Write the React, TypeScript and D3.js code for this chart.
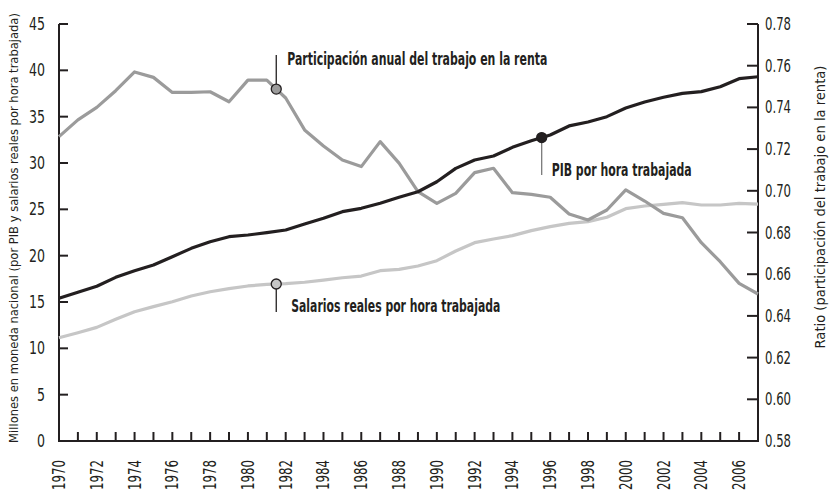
import React, { useEffect, useRef } from 'react';
import * as d3 from 'd3';

const years = [
  1970, 1971, 1972, 1973, 1974, 1975, 1976, 1977, 1978, 1979,
  1980, 1981, 1982, 1983, 1984, 1985, 1986, 1987, 1988, 1989,
  1990, 1991, 1992, 1993, 1994, 1995, 1996, 1997, 1998, 1999,
  2000, 2001, 2002, 2003, 2004, 2005, 2006, 2007,
];

// PIB por hora trabajada (millones, eje izquierdo)
const pibPorHora = [
  15.4, 16.05, 16.7, 17.66, 18.38, 18.99, 19.89, 20.79, 21.5, 22.05,
  22.23, 22.48, 22.77, 23.42, 24.03, 24.75, 25.11, 25.65, 26.3, 26.9,
  27.98, 29.42, 30.32, 30.75, 31.69, 32.4, 33.02, 34.0, 34.42, 35.0,
  35.93, 36.58, 37.09, 37.52, 37.7, 38.23, 39.1, 39.31,
];

// Salarios reales por hora trabajada (eje izquierdo)
const salariosPorHora = [
  11.15, 11.69, 12.26, 13.13, 13.95, 14.5, 15.03, 15.65, 16.11, 16.44,
  16.73, 16.9, 16.98, 17.13, 17.37, 17.62, 17.8, 18.38, 18.52, 18.88,
  19.46, 20.5, 21.4, 21.8, 22.16, 22.7, 23.13, 23.49, 23.67, 24.14,
  25.07, 25.36, 25.54, 25.72, 25.47, 25.47, 25.65, 25.57,
];

// Participación anual del trabajo en la renta (ratio, eje derecho)
const participacion = [
  0.726, 0.734, 0.740, 0.748, 0.757, 0.7544, 0.7472, 0.7472, 0.7475, 0.7427,
  0.7531, 0.7531, 0.7445, 0.7292, 0.7215, 0.7148, 0.7116, 0.7236, 0.7133, 0.6996,
  0.694, 0.6988, 0.7087, 0.7108, 0.6991, 0.6983, 0.6969, 0.6889, 0.686, 0.6908,
  0.7004, 0.6951, 0.6892, 0.6871, 0.6751, 0.666, 0.6556, 0.6505,
];

const leftTicks = [0, 5, 10, 15, 20, 25, 30, 35, 40, 45];
const rightTicks = [0.58, 0.6, 0.62, 0.64, 0.66, 0.68, 0.7, 0.72, 0.74, 0.76, 0.78];
const yearLabels = [
  1970, 1972, 1974, 1976, 1978, 1980, 1982, 1984, 1986, 1988,
  1990, 1992, 1994, 1996, 1998, 2000, 2002, 2004, 2006,
];

const FONT = '"Liberation Sans Narrow", "DejaVu Sans Condensed", "Liberation Sans", sans-serif';
const INK = '#231f20';

const interp = (arr: number[], yr: number) => {
  const i = Math.floor(yr - years[0]);
  const f = yr - years[0] - i;
  return arr[i] + (arr[i + 1] - arr[i]) * f;
};

const App = () => {
  const svgRef = useRef<SVGSVGElement>(null);

  useEffect(() => {
    const svg = d3.select(svgRef.current);
    svg.selectAll('*').remove();

    const width = 829;
    const height = 495;
    const margin = { top: 24, right: 71, bottom: 54, left: 59 };
    const x0 = margin.left;
    const x1 = width - margin.right;
    const y0 = height - margin.bottom;

    const x = d3.scaleLinear().domain([1970, 2007]).range([x0, x1]);
    const yL = d3.scaleLinear().domain([0, 45]).range([y0, margin.top]);
    const yR = d3.scaleLinear().domain([0.58, 0.78]).range([y0, margin.top]);

    const g = svg.append('g').style('font-family', FONT).style('font-stretch', 'condensed');

    // axis lines
    const axes = g.append('g').attr('stroke', INK).attr('stroke-width', 2).attr('fill', 'none');
    axes.append('line').attr('x1', x0).attr('x2', x0).attr('y1', margin.top).attr('y2', y0 + 1);
    axes.append('line').attr('x1', x1).attr('x2', x1).attr('y1', margin.top).attr('y2', y0 + 1);
    axes.append('line').attr('x1', x0).attr('x2', x1).attr('y1', y0).attr('y2', y0);

    // left ticks + labels
    axes.selectAll('.lt').data(leftTicks).join('line')
      .attr('x1', x0).attr('x2', x0 + 9)
      .attr('y1', d => yL(d)).attr('y2', d => yL(d));
    g.append('g').selectAll('text').data(leftTicks).join('text')
      .attr('x', x0 - 14).attr('y', d => yL(d) + 6)
      .attr('text-anchor', 'end')
      .attr('fill', INK)
      .style('font-size', '17px')
      .attr('textLength', d => String(d).length * 8)
      .attr('lengthAdjust', 'spacingAndGlyphs')
      .text(d => d);

    // right ticks + labels
    axes.selectAll('.rt').data(rightTicks).join('line')
      .attr('x1', x1 - 11).attr('x2', x1)
      .attr('y1', d => yR(d)).attr('y2', d => yR(d));
    g.append('g').selectAll('text').data(rightTicks).join('text')
      .attr('x', x1 + 7).attr('y', d => yR(d) + 6)
      .attr('fill', INK)
      .style('font-size', '17px')
      .attr('textLength', 26)
      .attr('lengthAdjust', 'spacingAndGlyphs')
      .text(d => d3.format('.2f')(d));

    // x ticks every year, labels every two
    axes.selectAll('.xt').data(years.slice(1, -1)).join('line')
      .attr('x1', d => x(d)).attr('x2', d => x(d))
      .attr('y1', y0).attr('y2', y0 - 9);
    g.append('g').selectAll('text').data(yearLabels).join('text')
      .attr('transform', d => `translate(${x(d) + 6},${y0 + 19}) rotate(-90)`)
      .attr('text-anchor', 'end')
      .attr('fill', INK)
      .style('font-size', '18px')
      .attr('textLength', 30)
      .attr('lengthAdjust', 'spacingAndGlyphs')
      .text(d => d);

    // axis titles, font size fitted to the reference length
    const fitTitle = (label: string, cx: number, cy: number, size: number, target: number) => {
      const t = g.append('text')
        .attr('transform', `translate(${cx},${cy}) rotate(-90)`)
        .attr('text-anchor', 'middle')
        .attr('fill', INK)
        .style('font-size', `${size}px`)
        .text(label);
      const node = t.node() as SVGTextElement;
      const len = node.getComputedTextLength();
      if (len > 0) t.style('font-size', `${(size * target) / len}px`);
    };
    fitTitle('Millones en moneda nacional  (por PIB y salarios reales por hora trabajada)', 18, 228, 14, 430);
    fitTitle('Ratio (participación del trabajo en la renta)', 825, 207, 15, 283);

    // series
    const lineL = d3.line<number>().x((_, i) => x(years[i])).y(d => yL(d));
    const lineR = d3.line<number>().x((_, i) => x(years[i])).y(d => yR(d));

    g.append('path').datum(salariosPorHora)
      .attr('d', lineL).attr('fill', 'none')
      .attr('stroke', '#c6c6c6').attr('stroke-width', 3.2).attr('stroke-linejoin', 'round');
    g.append('path').datum(participacion)
      .attr('d', lineR).attr('fill', 'none')
      .attr('stroke', '#9b9b9b').attr('stroke-width', 3.2).attr('stroke-linejoin', 'round');
    g.append('path').datum(pibPorHora)
      .attr('d', lineL).attr('fill', 'none')
      .attr('stroke', INK).attr('stroke-width', 3.2).attr('stroke-linejoin', 'round');

    // callouts
    const notes = [
      { yr: 1981.5, cy: yR(interp(participacion, 1981.5)), ly: 55, fill: '#9b9b9b', tx: 11, ty: 65,
        label: 'Participación anual del trabajo en la renta', len: 260 },
      { yr: 1981.5, cy: yL(interp(salariosPorHora, 1981.5)), ly: 312, fill: '#c6c6c6', tx: 15, ty: 312,
        label: 'Salarios reales por hora trabajada', len: 209 },
      { yr: 1995.55, cy: yL(interp(pibPorHora, 1995.55)), ly: 175, fill: INK, tx: 10, ty: 176,
        label: 'PIB por hora trabajada', len: 140 },
    ];

    notes.forEach(n => {
      const cx = x(n.yr);
      g.append('line')
        .attr('x1', cx).attr('x2', cx).attr('y1', n.cy).attr('y2', n.ly)
        .attr('stroke', n.fill === INK ? '#7a7a7a' : INK).attr('stroke-width', 1.3);
      g.append('circle')
        .attr('cx', cx).attr('cy', n.cy).attr('r', 5)
        .attr('fill', n.fill).attr('stroke', INK).attr('stroke-width', 1.3);
      g.append('text')
        .attr('x', cx + n.tx).attr('y', n.ty)
        .attr('fill', INK)
        .style('font-size', '18px')
        .style('font-weight', 'bold')
        .attr('textLength', n.len)
        .attr('lengthAdjust', 'spacingAndGlyphs')
        .text(n.label);
    });
  }, []);

  return (
    <svg
      ref={svgRef}
      width="829"
      height="495"
      style={{ position: 'absolute', left: 0, top: 0, background: '#fff' }}
    ></svg>
  );
};

export default App;
